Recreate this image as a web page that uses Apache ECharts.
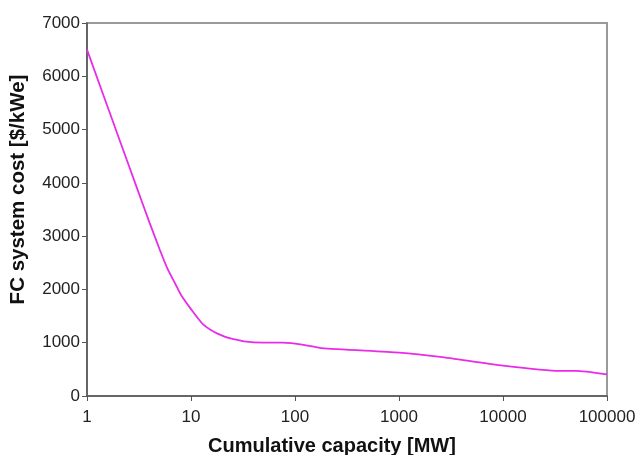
<!DOCTYPE html>
<html>
<head>
<meta charset="utf-8">
<script src="https://cdn.jsdelivr.net/npm/echarts@6/dist/echarts.min.js"></script>
<style>
  html, body { margin: 0; padding: 0; background: #fff; }
  #chart { width: 640px; height: 455px; }
</style>
</head>
<body>
<div id="chart"></div>
<script>
// Cumulative capacity [MW] (log axis) and FC system cost [$/kWe]
const capacity = [1, 2, 3, 4, 5, 6, 7, 8, 10, 13, 18, 25, 40, 75, 113, 180, 1000, 2500, 10000, 35000, 50000, 100000]
const cost = [6500, 4870, 3920, 3250, 2750, 2370, 2120, 1900, 1630, 1350, 1170, 1070, 1005, 1000, 970, 900, 815, 735, 570, 470, 470, 405]

const chart = echarts.init(document.getElementById('chart'))

const font = 'Liberation Sans, Arial, sans-serif'

const option = {
  animation: false,
  grid: {
    left: 87,
    right: 33,
    top: 23,
    bottom: 59,
    outerBoundsMode: 'none',
    containLabel: false,
    show: true,
    borderColor: '#9a9a9a',
    borderWidth: 2
  },
  xAxis: {
    type: 'log',
    logBase: 10,
    min: 1,
    max: 100000,
    name: 'Cumulative capacity [MW]',
    nameLocation: 'middle',
    nameGap: 40,
    nameTextStyle: {
      fontFamily: font,
      fontSize: 20,
      fontWeight: 'bold',
      color: '#111',
      padding: [0, 30, 0, 0]
    },
    axisLine: { lineStyle: { color: '#555', width: 1.5 } },
    axisTick: { show: true, length: 5, lineStyle: { color: '#555' } },
    minorTick: { show: false },
    splitLine: { show: false },
    axisLabel: {
      fontFamily: font,
      fontSize: 17,
      color: '#222',
      margin: 13,
      formatter: (v) => String(Math.round(v))
    }
  },
  yAxis: {
    type: 'value',
    min: 0,
    max: 7000,
    interval: 1000,
    name: 'FC system cost [$/kWe]',
    nameLocation: 'middle',
    nameGap: 58,
    nameTextStyle: {
      fontFamily: font,
      fontSize: 20.5,
      fontWeight: 'bold',
      color: '#111',
      padding: [0, 0, 0, 40]
    },
    axisLine: { show: true, lineStyle: { color: '#555', width: 1.5 } },
    axisTick: { show: true, length: 5, lineStyle: { color: '#555' } },
    splitLine: { show: false },
    axisLabel: {
      fontFamily: font,
      fontSize: 17,
      color: '#222',
      margin: 7,
      formatter: (v) => String(v)
    }
  },
  series: [
    {
      type: 'line',
      data: capacity.map((c, i) => [c, cost[i]]),
      showSymbol: false,
      smooth: 0.2,
      lineStyle: { color: '#e82ce8', width: 1.8 },
      itemStyle: { color: '#e82ce8' }
    }
  ]
}

chart.setOption(option)
</script>
</body>
</html>
